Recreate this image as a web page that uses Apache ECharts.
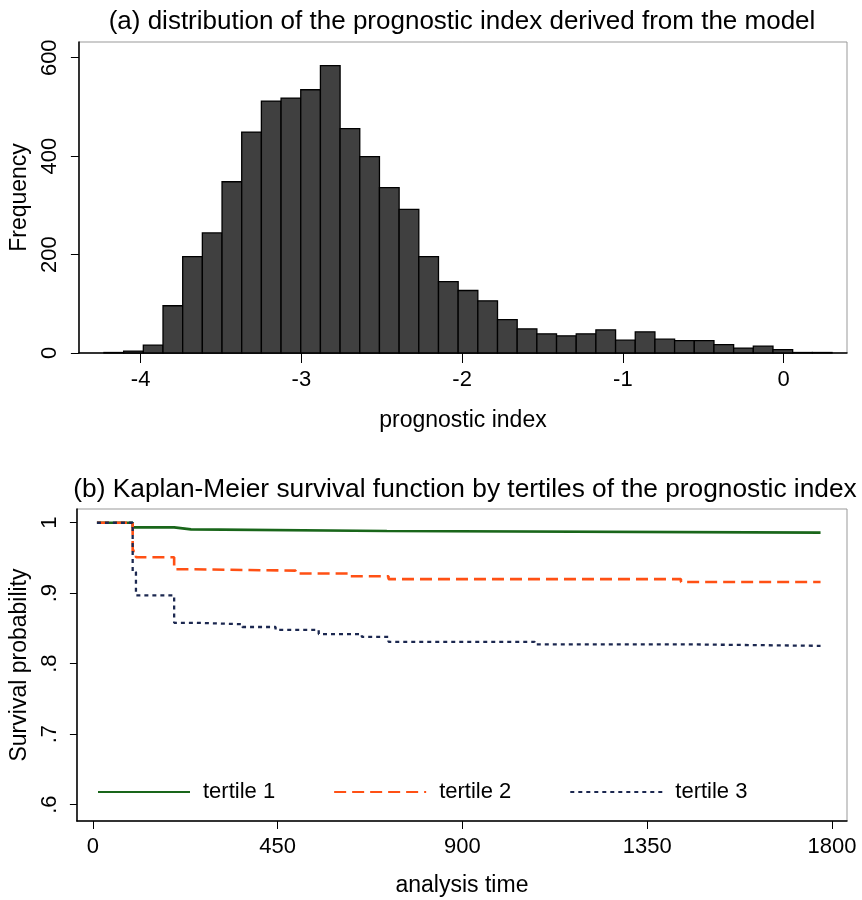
<!DOCTYPE html>
<html>
<head>
<meta charset="utf-8">
<script src="https://cdn.jsdelivr.net/npm/echarts@6/dist/echarts.min.js"></script>
<style>
html,body{margin:0;padding:0;background:#fff;}
#c{width:862px;height:900px;}
</style>
</head>
<body>
<div id="c"></div>
<script>
// ---- Panel (a): histogram of prognostic index ----
var binStart = -4.228;
var binWidth = 0.1224;
var frequencies = [1, 4, 16, 96, 196, 244, 348, 449, 512, 518, 535, 584, 456, 399, 336, 292, 196, 145,
  127, 106, 68, 49, 39, 35, 39, 47, 26, 43, 28, 25, 25, 17, 10, 14, 7, 1, 1];
var histXTicks = [-4, -3, -2, -1, 0];
var histYTicks = [0, 200, 400, 600];

// ---- Panel (b): Kaplan-Meier curves ----
var tertile1Time = [10, 97, 198, 239, 716, 1772];
var tertile1Surv = [1, 0.9934, 0.9906, 0.9882, 0.986, 0.986];
var tertile2Time = [10, 97, 105, 198, 240, 494, 623, 720, 1432, 1772];
var tertile2Surv = [1, 0.960, 0.951, 0.934, 0.932, 0.928, 0.924, 0.920, 0.916, 0.916];
var tertile3Time = [10, 97, 105, 198, 251, 364, 445, 550, 655, 720, 1076, 1432, 1772];
var tertile3Surv = [1, 0.93, 0.897, 0.858, 0.856, 0.852, 0.848, 0.842, 0.838, 0.831, 0.8275, 0.8253, 0.8253];
var kmXTicks = [0, 450, 900, 1350, 1800];
var kmYTicks = [0.6, 0.7, 0.8, 0.9, 1];
var seriesNames = ['tertile 1', 'tertile 2', 'tertile 3'];

var FONT = 'Liberation Sans, Arial, sans-serif';

var histData = frequencies.map(function (f, i) {
  var lo = binStart + i * binWidth;
  return [lo, lo + binWidth, f];
});
function zip(a, b) { return a.map(function (v, i) { return [v, b[i]]; }); }

var chart = echarts.init(document.getElementById('c'), null, {renderer: 'canvas'});
var nameStyle = {color: '#000', fontSize: 23, fontFamily: FONT};

chart.setOption({
  backgroundColor: '#fff',
  animation: false,
  graphic: [
    {type: 'text', x: 462, y: 22, style: {text: '(a) distribution of the prognostic index derived from the model',
      fill: '#000', font: '26px ' + FONT, textAlign: 'center', textVerticalAlign: 'middle'}},
    {type: 'text', x: 465, y: 490, style: {text: '(b) Kaplan-Meier survival function by tertiles of the prognostic index',
      fill: '#000', font: '26.3px ' + FONT, textAlign: 'center', textVerticalAlign: 'middle'}}
  ],
  legend: {
    data: seriesNames,
    left: 92, top: 776,
    itemWidth: 92, itemHeight: 14, itemGap: 58,
    itemStyle: {opacity: 0},
    textStyle: {color: '#000', fontSize: 22, fontFamily: FONT, padding: [0, 0, 0, 8]}
  },
  grid: [
    {left: 78, top: 42, right: 15, height: 311, show: true, borderColor: '#999', borderWidth: 1, backgroundColor: '#fff'},
    {left: 74, top: 509, right: 15, height: 312, show: true, borderColor: '#999', borderWidth: 1, backgroundColor: '#fff'}
  ],
  xAxis: [
    {gridIndex: 0, type: 'value', min: -4.384, max: 0.394,
      name: 'prognostic index', nameLocation: 'middle', nameGap: 56, nameTextStyle: nameStyle,
      axisLine: {show: true, onZero: false, lineStyle: {color: '#000', width: 1.5}},
      axisTick: {show: true, length: 10, customValues: histXTicks, lineStyle: {color: '#000'}},
      axisLabel: {customValues: histXTicks, margin: 16, color: '#000', fontSize: 22, fontFamily: FONT,
        formatter: function (v) { return String(v); }},
      splitLine: {show: false}},
    {gridIndex: 1, type: 'value', min: -38.8, max: 1836.4,
      name: 'analysis time', nameLocation: 'middle', nameGap: 53, nameTextStyle: nameStyle,
      axisLine: {show: true, onZero: false, lineStyle: {color: '#000', width: 1.5}},
      axisTick: {show: true, length: 8, customValues: kmXTicks, lineStyle: {color: '#000'}},
      axisLabel: {customValues: kmXTicks, margin: 15, color: '#000', fontSize: 22, fontFamily: FONT,
        formatter: function (v) { return String(v); }},
      splitLine: {show: false}}
  ],
  yAxis: [
    {gridIndex: 0, type: 'value', min: 0, max: 632,
      name: 'Frequency', nameLocation: 'middle', nameGap: 41, nameRotate: 90, nameTextStyle: nameStyle,
      axisLine: {show: true, onZero: false, lineStyle: {color: '#000', width: 1.5}},
      axisTick: {show: true, length: 8, customValues: histYTicks, lineStyle: {color: '#000'}},
      axisLabel: {customValues: histYTicks, rotate: 90, margin: 18, color: '#000', fontSize: 22, fontFamily: FONT,
        formatter: function (v) { return String(v); }},
      splitLine: {show: false}},
    {gridIndex: 1, type: 'value', min: 0.5767, max: 1.0195,
      name: 'Survival probability', nameLocation: 'middle', nameGap: 37, nameRotate: 90, nameTextStyle: nameStyle,
      axisLine: {show: true, onZero: false, lineStyle: {color: '#000', width: 1.5}},
      axisTick: {show: true, length: 7, customValues: kmYTicks, lineStyle: {color: '#000'}},
      axisLabel: {customValues: kmYTicks, rotate: 90, margin: 16, color: '#000', fontSize: 22, fontFamily: FONT,
        formatter: function (v) { var s = (Math.round(v * 10) / 10).toString(); return s.replace(/^0\./, '.'); }},
      splitLine: {show: false}}
  ],
  series: [
    {type: 'custom', xAxisIndex: 0, yAxisIndex: 0, data: histData,
      encode: {x: [0, 1], y: 2},
      renderItem: function (params, api) {
        var p0 = api.coord([api.value(0), api.value(2)]);
        var p1 = api.coord([api.value(1), 0]);
        return {type: 'rect', shape: {x: p0[0], y: p0[1], width: p1[0] - p0[0], height: p1[1] - p0[1]},
          style: {fill: '#404040', stroke: '#000', lineWidth: 1.3}};
      }},
    {name: seriesNames[0], type: 'line', xAxisIndex: 1, yAxisIndex: 1, step: 'end', symbol: 'none',
      data: zip(tertile1Time, tertile1Surv), color: '#19661a',
      lineStyle: {color: '#19661a', width: 2.6, type: 'solid'}},
    {name: seriesNames[1], type: 'line', xAxisIndex: 1, yAxisIndex: 1, step: 'end', symbol: 'none',
      data: zip(tertile2Time, tertile2Surv), color: '#ff5014',
      lineStyle: {color: '#ff5014', width: 2.6, type: [12, 6]}},
    {name: seriesNames[2], type: 'line', xAxisIndex: 1, yAxisIndex: 1, step: 'end', symbol: 'none',
      data: zip(tertile3Time, tertile3Surv), color: '#1c2850',
      lineStyle: {color: '#1c2850', width: 2.3, type: [4, 4]}}
  ]
});
</script>
</body>
</html>
